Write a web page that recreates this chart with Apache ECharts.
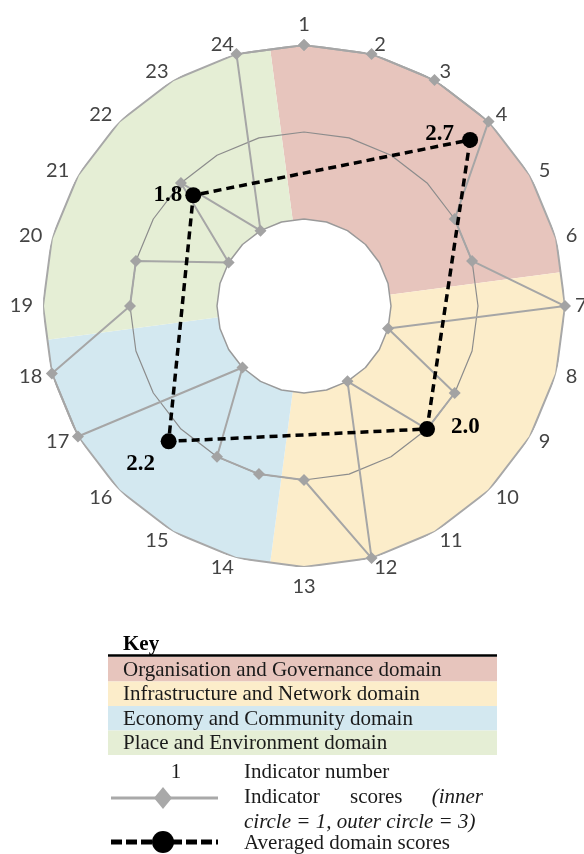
<!DOCTYPE html>
<html>
<head>
<meta charset="utf-8">
<script src="https://cdn.jsdelivr.net/npm/echarts@6/dist/echarts.min.js"></script>
<style>
html, body {margin: 0; padding: 0; background: #fff;}
#chart {width: 584px; height: 854px;}
</style>
</head>
<body>
<div id="chart"></div>
<script>
// indicator numbers round the wheel, clockwise from the top
var indicators = ['1', '2', '3', '4', '5', '6', '7', '8', '9', '10', '11', '12',
    '13', '14', '15', '16', '17', '18', '19', '20', '21', '22', '23', '24'];
// indicator scores (inner circle = 1, outer circle = 3)
var scores = [3, 3, 3, 3, 2, 2, 3, 1, 2, 2, 1, 3, 2, 2, 2, 1, 3, 3, 2, 2, 1, 2, 1, 3];
var ringLevels = [1, 2, 3];

var domainNames = ['Organisation and Governance domain', 'Infrastructure and Network domain',
    'Economy and Community domain', 'Place and Environment domain'];
var domainFirst = [0, 6, 13, 18];   // index of first indicator in domain
var domainLast = [5, 12, 17, 23];   // index of last indicator in domain
var avgScores = [2.7, 2.0, 2.2, 1.8];
var avgAt = [3, 9, 15, 21];         // indicator index the averaged score sits on

var domainColors = ['#e7c5bd', '#fcedca', '#d3e8f0', '#e5eed5'];
var avgLabels = [
    {position: 'left', distance: 8, offset: [0, -6]},
    {position: 'right', distance: 16, offset: [0, -2]},
    {position: 'bottom', distance: 3, offset: [-28, 0]},
    {position: 'left', distance: 3, offset: [0, 0]}
];

var n = indicators.length;
var serif = '"Liberation Serif", "Times New Roman", serif';
var center = [304, 306], outerR = 261;

function closed(points) {
    return points.concat([points[0]]);
}

function sectorItem(params, api) {
    var s = api.value(0), e = api.value(1);
    var rIn = ringLevels[0], rOut = ringLevels[ringLevels.length - 1];
    function pt(r, i) { return api.coord([r, (i + n) % n]); }
    function mid(a, b) { return [(a[0] + b[0]) / 2, (a[1] + b[1]) / 2]; }
    var outer = [mid(pt(rOut, s - 1), pt(rOut, s))];
    var inner = [mid(pt(rIn, s - 1), pt(rIn, s))];
    for (var i = s; i <= e; i++) {
        outer.push(pt(rOut, i));
        inner.push(pt(rIn, i));
    }
    outer.push(mid(pt(rOut, e), pt(rOut, e + 1)));
    inner.push(mid(pt(rIn, e), pt(rIn, e + 1)));
    return {
        type: 'polygon',
        shape: {points: outer.concat(inner.reverse())},
        style: {fill: domainColors[params.dataIndex]}
    };
}

var ringStyles = [
    {color: '#9a9a9a', width: 1.5},
    {color: '#8c8c8c', width: 1.2},
    {color: '#a8a8a8', width: 2}
];
var ringSeries = ringLevels.map(function (lv, k) {
    return {
        type: 'line', coordinateSystem: 'polar', silent: true, z: 2, clip: false,
        symbol: 'none',
        lineStyle: ringStyles[k],
        data: closed(indicators.map(function (c, i) { return [lv, i]; }))
    };
});

var avgData = avgScores.map(function (v, k) {
    return {
        value: [v, avgAt[k]],
        label: Object.assign({show: true}, avgLabels[k])
    };
});
avgData.push({value: [avgScores[0], avgAt[0]], symbol: 'none', label: {show: false}});

// radar goes anticlockwise, so feed it the numbers in reverse after the first
var radarNames = [indicators[0]].concat(indicators.slice(1).reverse());

// legend (key) drawn below the wheel
var keyTop = 657, rowH = 24.5, keyLeft = 108, keyRight = 497;
var keyEls = [
    {type: 'text', style: {text: 'Key', x: 123, y: 645, font: 'bold 21px ' + serif, fill: '#000',
        verticalAlign: 'middle', textVerticalAlign: 'middle'}},
    {type: 'line', shape: {x1: keyLeft, y1: keyTop - 1.5, x2: keyRight, y2: keyTop - 1.5},
        style: {stroke: '#000', lineWidth: 2.5}}
];
domainNames.forEach(function (name, k) {
    keyEls.push({type: 'rect', shape: {x: keyLeft, y: keyTop + k * rowH, width: keyRight - keyLeft, height: rowH},
        style: {fill: domainColors[k]}});
    keyEls.push({type: 'text', style: {text: name, x: 123, y: keyTop + k * rowH + rowH / 2 + 1,
        font: '21px ' + serif, fill: '#1a1a1a', verticalAlign: 'middle', textVerticalAlign: 'middle'}});
});
function keyText(text, x, y, italic, align) {
    return {type: 'text', style: {text: text, x: x, y: y, font: (italic ? 'italic ' : '') + '21px ' + serif,
        fill: '#1a1a1a', verticalAlign: 'middle', textVerticalAlign: 'middle',
        align: align || 'left', textAlign: align || 'left'}};
}
keyEls.push(keyText('1', 176, 772, false, 'center'));
keyEls.push(keyText('Indicator number', 244, 772));
keyEls.push({type: 'line', shape: {x1: 111, y1: 798, x2: 218, y2: 798}, style: {stroke: '#a9a9a9', lineWidth: 3}});
keyEls.push({type: 'polygon', shape: {points: [[163, 787], [172, 798], [163, 809], [154, 798]]}, style: {fill: '#a9a9a9'}});
keyEls.push(keyText('Indicator', 244, 797));
keyEls.push(keyText('scores', 350, 797));
keyEls.push(keyText('(inner', 483, 797, true, 'right'));
keyEls.push(keyText('circle = 1, outer circle = 3)', 244, 822, true));
keyEls.push({type: 'line', shape: {x1: 111, y1: 842, x2: 218, y2: 842},
    style: {stroke: '#000', lineWidth: 5, lineDash: [11, 4]}});
keyEls.push({type: 'circle', shape: {cx: 163, cy: 842, r: 11}, style: {fill: '#000'}});
keyEls.push(keyText('Averaged domain scores', 244, 843));

var chart = echarts.init(document.getElementById('chart'), null, {renderer: 'canvas'});
chart.setOption({
    animation: false,
    backgroundColor: '#fff',
    polar: {center: center, radius: [0, outerR]},
    // bands of 15 degrees; start half a band early so indicator 1 sits at the top
    angleAxis: {
        type: 'category', data: indicators, startAngle: 90 + 180 / n, clockwise: true, boundaryGap: true,
        axisLine: {show: false}, axisTick: {show: false}, splitLine: {show: false}, axisLabel: {show: false}
    },
    radiusAxis: {
        type: 'value', min: 0, max: 3,
        axisLine: {show: false}, axisTick: {show: false}, axisLabel: {show: false}, splitLine: {show: false}
    },
    // radar only supplies the indicator numbers round the rim
    radar: {
        center: center, radius: outerR, startAngle: 90, shape: 'polygon',
        indicator: radarNames.map(function (nm) { return {name: nm, min: 0, max: 3}; }),
        nameGap: 10,
        axisName: {color: '#444', fontSize: 20, fontFamily: 'Lato'},
        axisLine: {show: false}, splitLine: {show: false}, splitArea: {show: false},
        axisTick: {show: false}, axisLabel: {show: false}
    },
    series: [
        {
            type: 'custom', coordinateSystem: 'polar', silent: true, z: 1,
            renderItem: sectorItem,
            data: domainFirst.map(function (f, k) { return [f, domainLast[k]]; })
        }
    ].concat(ringSeries).concat([
        {
            name: 'Indicator scores', type: 'line', coordinateSystem: 'polar', silent: true, z: 3, clip: false,
            symbol: 'diamond', symbolSize: 12,
            itemStyle: {color: '#a3a3a3'},
            lineStyle: {color: '#a6a6a6', width: 2},
            data: closed(scores.map(function (v, i) { return [v, i]; }))
        },
        {
            name: 'Averaged domain scores', type: 'line', coordinateSystem: 'polar', silent: true, z: 4, clip: false,
            symbol: 'circle', symbolSize: 16,
            itemStyle: {color: '#000'},
            lineStyle: {color: '#000', width: 3.5, type: [8, 5]},
            label: {
                fontFamily: serif, fontWeight: 'bold', fontSize: 23, color: '#000',
                formatter: function (p) { return p.value[0].toFixed(1); }
            },
            data: avgData
        }
    ]),
    graphic: {elements: keyEls}
});
</script>
</body>
</html>
